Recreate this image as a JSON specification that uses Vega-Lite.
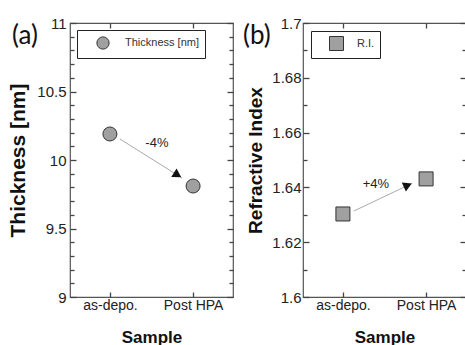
{
  "$schema": "https://vega.github.io/schema/vega-lite/v6.json",
  "padding": {"left": 7, "top": 15, "right": 0, "bottom": 0},
  "background": "white",
  "config": {
    "view": {"stroke": "#555", "strokeWidth": 1.2},
    "font": "Liberation Sans",
    "axis": {"grid": false, "domain": false, "tickColor": "#444", "tickWidth": 1.3, "labelColor": "#222", "titleColor": "#111", "labelFont": "Liberation Sans", "titleFont": "Liberation Sans", "labelOverlap": false, "labelBound": false, "labelFlush": false},
    "legend": {"labelFont": "Liberation Sans", "labelColor": "#333"}
  },
  "bounds": "flush",
  "spacing": 70,
  "resolve": {"scale": {"fill": "independent"}, "legend": {"fill": "independent"}},
  "hconcat": [
    {
      "width": 163,
      "height": 274,
      "title": {"text": "(a)", "anchor": "start", "frame": "group", "dx": -58, "offset": -33, "fontSize": 26, "font": "Lato", "fontWeight": "normal", "color": "#111", "baseline": "top"},
      "data": {"values": [
        {"sample": "as-depo.", "value": 10.19, "series": "Thickness [nm]", "label": "-4%"},
        {"sample": "Post HPA", "value": 9.81, "series": "Thickness [nm]", "label": ""}
      ]},
      "layer": [
        {
          "layer": [
            {
              "data": {"values": [
                {"from": "as-depo.", "to": "Post HPA", "v1": 10.19, "v2": 9.81}
              ]},
              "mark": {"type": "rule", "color": "#aaa", "strokeWidth": 1, "xOffset": 10, "yOffset": 5, "x2Offset": -11, "y2Offset": -8},
              "encoding": {
                "x": {"field": "from", "type": "nominal"},
                "x2": {"field": "to"},
                "y": {"field": "v1", "type": "quantitative"},
                "y2": {"field": "v2"}
              }
            },
            {
              "mark": {"type": "point", "filled": true, "shape": "circle", "size": 196, "stroke": "#333", "strokeWidth": 1, "opacity": 1},
              "encoding": {
                "x": {"field": "sample", "type": "nominal", "sort": null, "title": "Sample",
                  "scale": {"type": "point", "domain": ["as-depo.", "Post HPA"], "padding": 0.48},
                  "axis": {"orient": "bottom", "labelAngle": 0, "labelAlign": "center", "tickSize": -5, "labelFontSize": 14, "labelPadding": 13, "titleFontSize": 17, "titleFontWeight": "bold", "titlePadding": 17}},
                "y": {"field": "value", "type": "quantitative", "title": "Thickness [nm]",
                  "scale": {"domain": [9, 11], "nice": false, "zero": false},
                  "axis": {"orient": "left", "values": [9, 9.5, 10, 10.5, 11], "format": "~g", "tickSize": -6,
                    "labelFontSize": 15, "labelPadding": 10, "titleFontSize": 21, "titleFontWeight": "bold", "titlePadding": 8}},
                "fill": {"field": "series", "type": "nominal", "scale": {"range": ["#a0a0a0"]},
                  "legend": {"title": null, "orient": "top-left", "offset": 7, "padding": 6, "strokeColor": "#222", "fillColor": "white", "symbolType": "circle", "symbolSize": 150, "symbolStrokeColor": "#333", "symbolStrokeWidth": 1, "symbolOffset": 13, "labelOffset": 15, "labelFontSize": 11}}
              }
            },
            {
              "transform": [{"filter": "datum.sample === 'Post HPA'"}],
              "mark": {"type": "point", "filled": true, "shape": "triangle-right", "size": 100, "color": "#111", "opacity": 1, "angle": 32, "xOffset": -15.5, "yOffset": -11},
              "encoding": {
                "x": {"field": "sample", "type": "nominal"},
                "y": {"field": "value", "type": "quantitative"}
              }
            },
            {
              "mark": {"type": "text", "fontSize": 13, "color": "#222", "xOffset": 47, "yOffset": 9},
              "encoding": {
                "x": {"field": "sample", "type": "nominal"},
                "y": {"field": "value", "type": "quantitative"},
                "text": {"field": "label"}
              }
            }
          ]
        },
        {
          "mark": {"type": "point", "opacity": 0},
          "encoding": {
            "x": {"field": "sample", "type": "nominal", "sort": null, "title": null,
              "scale": {"type": "point", "domain": ["as-depo.", "Post HPA"], "padding": 0.48},
              "axis": {"orient": "top", "labels": false, "tickSize": -5}},
            "y": {"field": "value", "type": "quantitative", "title": null,
              "scale": {"domain": [9, 11], "nice": false, "zero": false},
              "axis": {"orient": "left", "labels": false, "values": [9.1, 9.2, 9.3, 9.4, 9.6, 9.7, 9.8, 9.9, 10.1, 10.2, 10.3, 10.4, 10.6, 10.7, 10.8, 10.9], "tickSize": -4}}
          }
        },
        {
          "mark": {"type": "point", "opacity": 0},
          "encoding": {
            "x": {"field": "sample", "type": "nominal", "scale": {"type": "point", "domain": ["as-depo.", "Post HPA"], "padding": 0.48}, "axis": null},
            "y": {"field": "value", "type": "quantitative", "title": null,
              "scale": {"domain": [9, 11], "nice": false, "zero": false},
              "axis": {"orient": "right", "labels": false, "values": [9, 9.5, 10, 10.5, 11], "tickSize": -6}}
          }
        },
        {
          "mark": {"type": "point", "opacity": 0},
          "encoding": {
            "x": {"field": "sample", "type": "nominal", "scale": {"type": "point", "domain": ["as-depo.", "Post HPA"], "padding": 0.48}, "axis": null},
            "y": {"field": "value", "type": "quantitative", "title": null,
              "scale": {"domain": [9, 11], "nice": false, "zero": false},
              "axis": {"orient": "right", "labels": false, "values": [9.1, 9.2, 9.3, 9.4, 9.6, 9.7, 9.8, 9.9, 10.1, 10.2, 10.3, 10.4, 10.6, 10.7, 10.8, 10.9], "tickSize": -4}}
          }
        }
      ],
      "resolve": {"scale": {"x": "independent", "y": "independent"}, "axis": {"x": "independent", "y": "independent"}}
    },
    {
      "width": 163,
      "height": 274,
      "title": {"text": "(b)", "anchor": "start", "frame": "group", "dx": -60, "offset": -33, "fontSize": 26, "font": "Lato", "fontWeight": "normal", "color": "#111", "baseline": "top"},
      "data": {"values": [
        {"sample": "as-depo.", "value": 1.6303, "series": "R.I.", "label": "+4%"},
        {"sample": "Post HPA", "value": 1.6431, "series": "R.I.", "label": ""}
      ]},
      "layer": [
        {
          "layer": [
            {
              "data": {"values": [
                {"from": "as-depo.", "to": "Post HPA", "v1": 1.6303, "v2": 1.6431}
              ]},
              "mark": {"type": "rule", "color": "#aaa", "strokeWidth": 1, "xOffset": 11, "yOffset": -3, "x2Offset": -14, "y2Offset": 4.5},
              "encoding": {
                "x": {"field": "from", "type": "nominal"},
                "x2": {"field": "to"},
                "y": {"field": "v1", "type": "quantitative"},
                "y2": {"field": "v2"}
              }
            },
            {
              "mark": {"type": "point", "filled": true, "shape": "square", "size": 196, "stroke": "#333", "strokeWidth": 1, "opacity": 1},
              "encoding": {
                "x": {"field": "sample", "type": "nominal", "sort": null, "title": "Sample",
                  "scale": {"type": "point", "domain": ["as-depo.", "Post HPA"], "padding": 0.48},
                  "axis": {"orient": "bottom", "labelAngle": 0, "labelAlign": "center", "tickSize": -5, "labelFontSize": 14, "labelPadding": 13, "titleFontSize": 17, "titleFontWeight": "bold", "titlePadding": 17}},
                "y": {"field": "value", "type": "quantitative", "title": "Refractive Index",
                  "scale": {"domain": [1.6, 1.7], "nice": false, "zero": false},
                  "axis": {"orient": "left", "values": [1.6, 1.62, 1.64, 1.66, 1.68, 1.7], "format": "~g", "tickSize": -6,
                    "labelFontSize": 15, "labelPadding": 8, "titleFontSize": 19, "titleFontWeight": "bold", "titlePadding": 6}},
                "fill": {"field": "series", "type": "nominal", "scale": {"range": ["#a0a0a0"]},
                  "legend": {"title": null, "orient": "top-left", "offset": 8, "padding": 5, "strokeColor": "#222", "fillColor": "white", "symbolType": "square", "symbolSize": 196, "symbolStrokeColor": "#333", "symbolStrokeWidth": 1, "symbolOffset": 13, "labelOffset": 13, "labelFontSize": 11}}
              }
            },
            {
              "transform": [{"filter": "datum.sample === 'Post HPA'"}],
              "mark": {"type": "point", "filled": true, "shape": "triangle-right", "size": 100, "color": "#111", "opacity": 1, "angle": 336, "xOffset": -18.3, "yOffset": 6.3},
              "encoding": {
                "x": {"field": "sample", "type": "nominal"},
                "y": {"field": "value", "type": "quantitative"}
              }
            },
            {
              "mark": {"type": "text", "fontSize": 13, "color": "#222", "xOffset": 33, "yOffset": -30},
              "encoding": {
                "x": {"field": "sample", "type": "nominal"},
                "y": {"field": "value", "type": "quantitative"},
                "text": {"field": "label"}
              }
            }
          ]
        },
        {
          "mark": {"type": "point", "opacity": 0},
          "encoding": {
            "x": {"field": "sample", "type": "nominal", "sort": null, "title": null,
              "scale": {"type": "point", "domain": ["as-depo.", "Post HPA"], "padding": 0.48},
              "axis": {"orient": "top", "labels": false, "tickSize": -5}},
            "y": {"field": "value", "type": "quantitative", "title": null,
              "scale": {"domain": [1.6, 1.7], "nice": false, "zero": false},
              "axis": {"orient": "left", "labels": false, "values": [1.61, 1.63, 1.65, 1.67, 1.69], "tickSize": -4}}
          }
        },
        {
          "mark": {"type": "point", "opacity": 0},
          "encoding": {
            "x": {"field": "sample", "type": "nominal", "scale": {"type": "point", "domain": ["as-depo.", "Post HPA"], "padding": 0.48}, "axis": null},
            "y": {"field": "value", "type": "quantitative", "title": null,
              "scale": {"domain": [1.6, 1.7], "nice": false, "zero": false},
              "axis": {"orient": "right", "labels": false, "values": [1.6, 1.62, 1.64, 1.66, 1.68, 1.7], "tickSize": -6}}
          }
        },
        {
          "mark": {"type": "point", "opacity": 0},
          "encoding": {
            "x": {"field": "sample", "type": "nominal", "scale": {"type": "point", "domain": ["as-depo.", "Post HPA"], "padding": 0.48}, "axis": null},
            "y": {"field": "value", "type": "quantitative", "title": null,
              "scale": {"domain": [1.6, 1.7], "nice": false, "zero": false},
              "axis": {"orient": "right", "labels": false, "values": [1.61, 1.63, 1.65, 1.67, 1.69], "tickSize": -4}}
          }
        }
      ],
      "resolve": {"scale": {"x": "independent", "y": "independent"}, "axis": {"x": "independent", "y": "independent"}}
    }
  ]
}
